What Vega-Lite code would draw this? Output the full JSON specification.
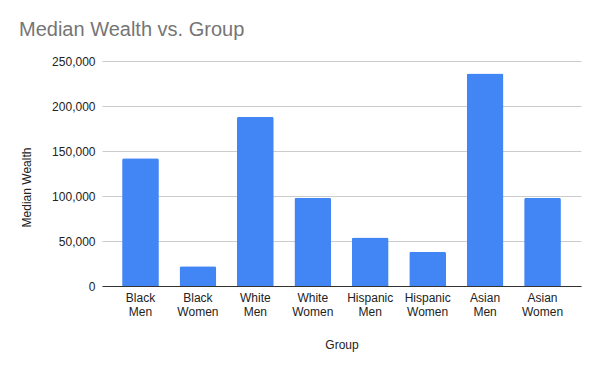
{
  "$schema": "https://vega.github.io/schema/vega-lite/v6.json",
  "autosize": "none",
  "width": 479,
  "height": 225,
  "padding": {"left": 102, "top": 61, "right": 19, "bottom": 85},
  "background": "white",
  "title": {
    "text": "Median Wealth vs. Group",
    "anchor": "start",
    "frame": "group",
    "dx": -83,
    "offset": 15,
    "fontSize": 20,
    "fontWeight": "normal",
    "font": "Liberation Sans",
    "color": "#757575"
  },
  "data": {
    "values": [
      {"Group": "Black Men", "Median Wealth": 142000},
      {"Group": "Black Women", "Median Wealth": 22000},
      {"Group": "White Men", "Median Wealth": 188000},
      {"Group": "White Women", "Median Wealth": 98000},
      {"Group": "Hispanic Men", "Median Wealth": 54000},
      {"Group": "Hispanic Women", "Median Wealth": 38000},
      {"Group": "Asian Men", "Median Wealth": 236000},
      {"Group": "Asian Women", "Median Wealth": 98000}
    ]
  },
  "mark": {"type": "bar", "color": "#4285F4", "cornerRadiusTopLeft": 2, "cornerRadiusTopRight": 2},
  "encoding": {
    "x": {
      "field": "Group",
      "type": "nominal",
      "sort": null,
      "scale": {"paddingInner": 0.36, "paddingOuter": 0.35},
      "axis": {
        "labelAngle": 0,
        "labelExpr": "split(datum.label, ' ')",
        "labelFont": "Liberation Sans",
        "labelFontSize": 12,
        "labelColor": "#222222",
        "labelLineHeight": 14.5,
        "labelPadding": 6,
        "ticks": false,
        "domainColor": "#333333",
        "title": "Group",
        "titleFont": "Liberation Sans",
        "titleFontSize": 12,
        "titleFontWeight": "normal",
        "titleColor": "#222222",
        "titleY": 58,
        "titleBaseline": "middle"
      }
    },
    "y": {
      "field": "Median Wealth",
      "type": "quantitative",
      "scale": {"domain": [0, 250000], "nice": false},
      "axis": {
        "values": [0, 50000, 100000, 150000, 200000, 250000],
        "format": ",d",
        "domain": false,
        "ticks": false,
        "labelPadding": 7,
        "labelFont": "Liberation Sans",
        "labelFontSize": 12,
        "labelColor": "#222222",
        "gridColor": "#cccccc",
        "title": "Median Wealth",
        "titleFont": "Liberation Sans",
        "titleFontSize": 12,
        "titleFontWeight": "normal",
        "titleColor": "#222222",
        "titleAngle": -90,
        "titleX": -76,
        "titleY": 126,
        "titleAlign": "center",
        "titleBaseline": "middle"
      }
    }
  },
  "config": {"view": {"stroke": null}}
}
